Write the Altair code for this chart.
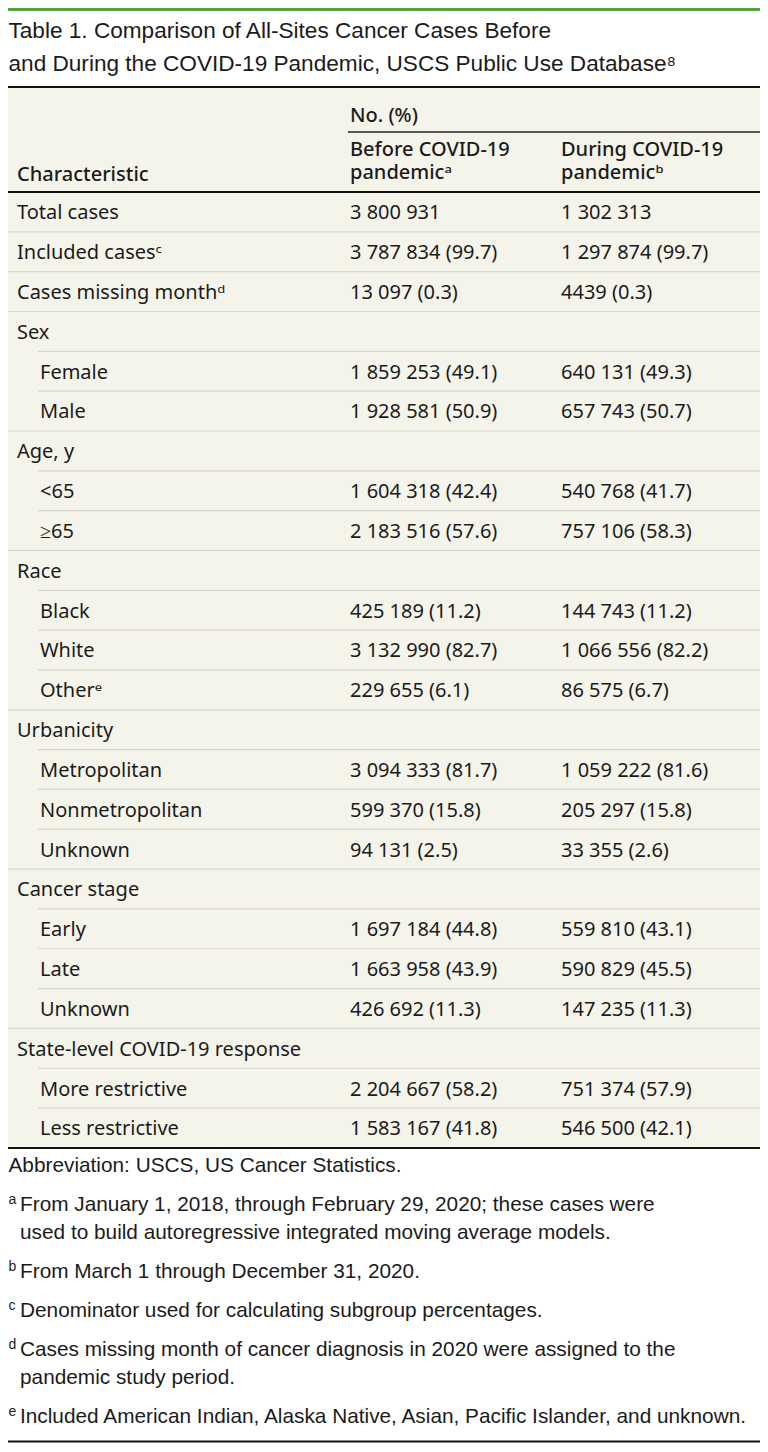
import altair as alt
import pandas as pd

# ---------------- data ----------------
title_lines = [
    "Table 1. Comparison of All-Sites Cancer Cases Before",
    "and During the COVID-19 Pandemic, USCS Public Use Database\u2078",
]
group_header = "No. (%)"
col_headers_1 = ["Before COVID-19", "During COVID-19"]
col_headers_2 = ["pandemic\u1d43", "pandemic\u1d47"]
stub_header = "Characteristic"

labels = ["Total cases", "Included cases\u1d9c", "Cases missing month\u1d48", "Sex", "Female", "Male",
          "Age, y", "<65", "\u226565", "Race", "Black", "White", "Other\u1d49", "Urbanicity",
          "Metropolitan", "Nonmetropolitan", "Unknown", "Cancer stage", "Early", "Late", "Unknown",
          "State-level COVID-19 response", "More restrictive", "Less restrictive"]
indent = [0, 0, 0, 0, 1, 1, 0, 1, 1, 0, 1, 1, 1, 0, 1, 1, 1, 0, 1, 1, 1, 0, 1, 1]
before = ["3 800 931", "3 787 834 (99.7)", "13 097 (0.3)", "", "1 859 253 (49.1)", "1 928 581 (50.9)",
          "", "1 604 318 (42.4)", "2 183 516 (57.6)", "", "425 189 (11.2)", "3 132 990 (82.7)",
          "229 655 (6.1)", "", "3 094 333 (81.7)", "599 370 (15.8)", "94 131 (2.5)", "",
          "1 697 184 (44.8)", "1 663 958 (43.9)", "426 692 (11.3)", "", "2 204 667 (58.2)",
          "1 583 167 (41.8)"]
during = ["1 302 313", "1 297 874 (99.7)", "4439 (0.3)", "", "640 131 (49.3)", "657 743 (50.7)",
          "", "540 768 (41.7)", "757 106 (58.3)", "", "144 743 (11.2)", "1 066 556 (82.2)",
          "86 575 (6.7)", "", "1 059 222 (81.6)", "205 297 (15.8)", "33 355 (2.6)", "",
          "559 810 (43.1)", "590 829 (45.5)", "147 235 (11.3)", "", "751 374 (57.9)",
          "546 500 (42.1)"]

foot_marks = ["", "a", "", "b", "c", "d", "", "e"]
foot_text = [
    "Abbreviation: USCS, US Cancer Statistics.",
    "From January 1, 2018, through February 29, 2020; these cases were",
    "used to build autoregressive integrated moving average models.",
    "From March 1 through December 31, 2020.",
    "Denominator used for calculating subgroup percentages.",
    "Cases missing month of cancer diagnosis in 2020 were assigned to the",
    "pandemic study period.",
    "Included American Indian, Alaska Native, Asian, Pacific Islander, and unknown.",
]

# ---------------- layout ----------------
W, H = 752, 1436
M = 8                      # page margin, chart coords = page coords - M
LEFT, RIGHT = 6 - M, 762 - M
TEXT_LEFT = 0.5
COLX = [17 - M, 350 - M, 561 - M]
INDENT_X = 40 - M
TOP_LINE = 87 - M
HEAD_LINE = 192 - M
ROW_H = 39.83
BASE_OFF = 27.3            # baseline offset inside a body row
BOT_LINE = HEAD_LINE + ROW_H * len(labels)
FOOT0 = BOT_LINE + 24.5    # first footnote baseline
FOOT_GAP = 39.0
FOOT_LINE = 28.0
END_LINE = H - 2.5

BODY_FONT = "Noto Sans"
COND_FONT = "Liberation Sans"
INK = "#1b1b1b"

# rectangles (backgrounds and rules)
rects = []
rects.append(dict(x=LEFT, x2=RIGHT, y=6 - M, y2=11 - M, c="#55a03f"))
rects.append(dict(x=LEFT, x2=RIGHT, y=TOP_LINE, y2=BOT_LINE, c="#f5f4eb"))
rects.append(dict(x=LEFT, x2=RIGHT, y=TOP_LINE - 1, y2=TOP_LINE + 1, c="#111111"))
rects.append(dict(x=348 - M, x2=RIGHT, y=132 - M - 0.75, y2=132 - M + 0.75, c="#222222"))
rects.append(dict(x=LEFT, x2=RIGHT, y=HEAD_LINE - 1, y2=HEAD_LINE + 1, c="#111111"))
for i in range(1, len(labels)):
    yy = HEAD_LINE + ROW_H * i
    rects.append(dict(x=INDENT_X - 2 if indent[i] else LEFT, x2=RIGHT, y=yy - 0.6, y2=yy + 0.6, c="#d8d7cf"))
rects.append(dict(x=LEFT, x2=RIGHT, y=BOT_LINE - 1, y2=BOT_LINE + 1, c="#111111"))
rects.append(dict(x=LEFT, x2=RIGHT, y=END_LINE - 1, y2=END_LINE + 1, c="#111111"))
rect_df = pd.DataFrame(rects)

# body texts
body = []
for i, lab in enumerate(labels):
    yy = HEAD_LINE + ROW_H * i + BASE_OFF
    body.append(dict(x=INDENT_X if indent[i] else COLX[0], y=yy, t=lab))
    if before[i]:
        body.append(dict(x=COLX[1], y=yy, t=before[i]))
    if during[i]:
        body.append(dict(x=COLX[2], y=yy, t=during[i]))
body_df = pd.DataFrame(body)

head = [
    dict(x=COLX[1], y=122 - M, t=group_header),
    dict(x=COLX[1], y=156 - M, t=col_headers_1[0]),
    dict(x=COLX[2], y=156 - M, t=col_headers_1[1]),
    dict(x=COLX[1], y=179 - M, t=col_headers_2[0]),
    dict(x=COLX[2], y=179 - M, t=col_headers_2[1]),
    dict(x=COLX[0], y=181 - M, t=stub_header),
]
head_df = pd.DataFrame(head)

title_df = pd.DataFrame([dict(x=TEXT_LEFT, y=38 - M + 33 * k, t=t) for k, t in enumerate(title_lines)])

foot = []
marks = []
yy = FOOT0
for k, (mk, tx) in enumerate(zip(foot_marks, foot_text)):
    if k > 0:
        yy += FOOT_LINE if mk == "" else FOOT_GAP
    xx = TEXT_LEFT if k == 0 else 20 - M
    foot.append(dict(x=xx, y=yy, t=tx))
    if mk:
        marks.append(dict(x=TEXT_LEFT, y=yy - 7, t=mk))
foot_df = pd.DataFrame(foot)
marks_df = pd.DataFrame(marks)

# ---------------- chart ----------------
X = lambda f="x": alt.X(f + ":Q", scale=alt.Scale(domain=[0, W], nice=False, zero=False), axis=None)
Y = lambda f="y": alt.Y(f + ":Q", scale=alt.Scale(domain=[H, 0], nice=False, zero=False), axis=None)

rect_layer = alt.Chart(rect_df).mark_rect().encode(
    x=X(), x2="x2:Q", y=Y(), y2="y2:Q", color=alt.Color("c:N", scale=None)
)

def text_layer(df, font, size, weight="normal"):
    return alt.Chart(df).mark_text(
        align="left", baseline="alphabetic", font=font, fontSize=size, fontWeight=weight, color=INK
    ).encode(x=X(), y=Y(), text="t:N")

chart = alt.layer(
    rect_layer,
    text_layer(title_df, COND_FONT, 22.6),
    text_layer(head_df, BODY_FONT, 20, 500),
    text_layer(body_df, BODY_FONT, 20),
    text_layer(foot_df, COND_FONT, 20.8),
    text_layer(marks_df, COND_FONT, 14),
).properties(
    width=W, height=H, padding=0, background="white",
    autosize=alt.AutoSizeParams(type="none"),
).configure_view(stroke=None)

chart.save("out.html", embed_options={"renderer": "svg", "actions": False})
